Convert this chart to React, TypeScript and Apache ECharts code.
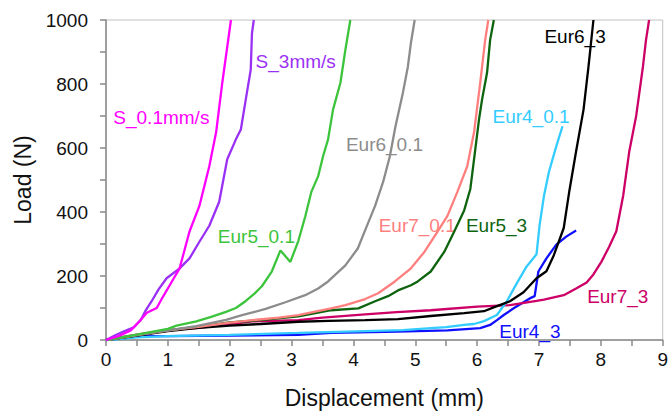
import React, { useEffect, useRef } from "react";
import * as echarts from "echarts";

const FONT = "'Liberation Sans', Arial, Helvetica, sans-serif";

const seriesNames = ["S_0.1mm/s", "S_3mm/s", "Eur5_0.1", "Eur6_0.1", "Eur7_0.1", "Eur5_3", "Eur6_3", "Eur4_0.1", "Eur7_3", "Eur4_3"];
const seriesColors = ["#FF00FF", "#9B30F5", "#3CC43C", "#8C8C8C", "#FF7F7F", "#0E640E", "#000000", "#33CCFF", "#CC0066", "#1010FF"];

const sSlow = [[0,0],[0.2,12],[0.4,30],[0.55,60],[0.66,85],[0.82,100],[0.92,135],[1.03,171],[1.19,224],[1.35,339],[1.51,419],[1.67,543],[1.78,649],[1.88,804],[2.02,1000]];
const sFast = [[0,0],[0.15,15],[0.3,28],[0.45,40],[0.56,62],[0.64,92],[0.74,122],[0.85,158],[0.98,193],[1.19,224],[1.35,255],[1.51,307],[1.67,357],[1.83,432],[1.96,565],[2.1,627],[2.18,658],[2.26,752],[2.34,845],[2.36,960],[2.39,1000]];
const eur5Slow = [[0,0],[0.5,17],[1.0,35],[1.14,45],[1.46,58],[1.7,72],[1.94,88],[2.1,100],[2.26,122],[2.4,145],[2.52,168],[2.68,214],[2.82,280],[2.98,244],[3.11,310],[3.22,385],[3.32,463],[3.43,512],[3.51,575],[3.59,627],[3.67,720],[3.79,804],[3.87,907],[3.95,1000]];
const eur6Slow = [[0,0],[0.5,16],[1.0,30],[1.46,43],[1.94,63],[2.2,78],[2.37,86],[2.58,97],[2.9,118],[3.22,140],[3.43,161],[3.59,183],[3.87,233],[4.07,286],[4.2,348],[4.35,419],[4.48,494],[4.59,575],[4.68,668],[4.8,773],[4.88,854],[4.93,929],[4.99,1000]];
const eur7Slow = [[0,0],[0.5,15],[1.0,30],[1.46,40],[1.94,53],[2.37,62],[2.79,70],[3.11,78],[3.32,86],[3.64,99],[3.87,109],[4.19,128],[4.4,146],[4.67,183],[4.93,224],[5.15,276],[5.36,339],[5.52,388],[5.68,463],[5.84,543],[5.95,649],[6.05,804],[6.13,938],[6.18,1000]];
const eur5Fast = [[0,0],[0.5,15],[1.0,30],[1.5,42],[2.0,55],[2.5,62],[3.11,74],[3.64,93],[4.08,99],[4.35,121],[4.56,137],[4.72,155],[4.93,171],[5.04,183],[5.25,214],[5.47,276],[5.63,339],[5.79,405],[5.89,472],[5.97,596],[6.03,689],[6.08,752],[6.16,835],[6.21,938],[6.27,1000]];
const eur6Fast = [[0,0],[0.5,14],[1.0,28],[1.5,38],[2.0,45],[2.5,50],[3.11,57],[3.6,60],[4.19,62],[4.72,65],[5.25,75],[5.79,84],[6.11,90],[6.32,106],[6.53,121],[6.75,149],[6.96,193],[7.12,215],[7.24,265],[7.4,350],[7.49,465],[7.6,590],[7.72,720],[7.8,854],[7.88,1000]];
const eur4Slow = [[0,0],[0.2,3],[0.5,8],[1.0,12],[2.0,16],[3.11,22],[4.19,28],[4.8,31],[5.25,37],[5.5,40],[5.79,47],[5.95,50],[6.11,59],[6.32,78],[6.48,121],[6.64,177],[6.8,230],[6.96,268],[7.01,360],[7.08,450],[7.16,525],[7.28,606],[7.38,668]];
const eur7Fast = [[0,0],[0.5,17],[1.0,31],[1.5,38],[2.0,50],[2.37,58],[3.11,62],[3.5,70],[4.19,80],[4.7,87],[5.25,93],[6.0,104],[6.53,109],[6.96,122],[7.08,126],[7.4,140],[7.6,161],[7.77,180],[7.88,205],[8.01,245],[8.13,290],[8.25,340],[8.36,450],[8.46,590],[8.57,699],[8.68,854],[8.73,938],[8.78,1000]];
const eur4Fast = [[0,0],[0.3,6],[0.5,12],[1.0,12],[2.0,14],[3.11,16],[3.64,22],[4.72,26],[5.52,30],[6.05,37],[6.21,47],[6.32,62],[6.43,78],[6.59,99],[6.85,130],[6.93,137],[6.99,214],[7.12,255],[7.28,298],[7.44,323],[7.6,342]];

const seriesData = [sSlow, sFast, eur5Slow, eur6Slow, eur7Slow, eur5Fast, eur6Fast, eur4Slow, eur7Fast, eur4Fast];

// label anchor (data coords, left-middle of text)
const labelAnchors = [[0.11,696],[2.41,870],[1.8,323],[3.87,612],[4.4,357],[5.81,357],[7.08,947],[6.24,699],[7.77,137],[6.35,28]];

const xTicks = [0, 9, 1];
const yTicks = [0, 1000, 200];

export default function App() {
  const ref = useRef<HTMLDivElement>(null);
  useEffect(() => {
    if (!ref.current) return;
    const chart = echarts.init(ref.current, null, { renderer: "svg" });
    const series = seriesNames.map((name, i) => ({
      name,
      type: "line",
      data: seriesData[i],
      symbol: "none",
      clip: true,
      lineStyle: { color: seriesColors[i], width: 2.3 },
      itemStyle: { color: seriesColors[i] },
      z: 10 - i,
      markPoint: {
        symbol: "circle",
        symbolSize: 1,
        itemStyle: { color: "rgba(0,0,0,0)" },
        label: {
          show: true,
          position: "right",
          distance: 0,
          formatter: name,
          color: seriesColors[i],
          fontSize: 19,
          fontFamily: FONT,
        },
        data: [{ coord: labelAnchors[i] }],
      },
    }));
    chart.setOption({
      animation: false,
      grid: { left: 106, right: 4, top: 20, bottom: 72, show: true, borderColor: "#c0c0c0", borderWidth: 1, backgroundColor: "transparent" },
      xAxis: {
        type: "value",
        min: xTicks[0],
        max: xTicks[1],
        interval: xTicks[2],
        name: "Displacement (mm)",
        nameLocation: "middle",
        nameGap: 46,
        nameTextStyle: { fontSize: 23, color: "#111", fontFamily: FONT },
        axisLine: { show: true, lineStyle: { color: "#8a8a8a", width: 1.5 } },
        axisTick: { show: true, inside: false, length: 6, lineStyle: { color: "#8a8a8a", width: 1.5 } },
        minorTick: { show: true, splitNumber: 2, length: 6, lineStyle: { color: "#8a8a8a", width: 1.5 } },
        axisLabel: { fontSize: 19, color: "#111", margin: 10, fontFamily: FONT, formatter: (v: number) => String(v) },
        splitLine: { show: false },
      },
      yAxis: {
        type: "value",
        min: yTicks[0],
        max: yTicks[1],
        interval: yTicks[2],
        name: "Load (N)",
        nameLocation: "middle",
        nameGap: 68,
        nameTextStyle: { fontSize: 23, color: "#111", fontFamily: FONT },
        axisLine: { show: true, lineStyle: { color: "#8a8a8a", width: 1.5 } },
        axisTick: { show: true, inside: false, length: 6, lineStyle: { color: "#8a8a8a", width: 1.5 } },
        minorTick: { show: true, splitNumber: 2, length: 6, lineStyle: { color: "#8a8a8a", width: 1.5 } },
        axisLabel: { fontSize: 19, color: "#111", margin: 18, fontFamily: FONT, formatter: (v: number) => String(v) },
        splitLine: { show: false },
      },
      series,
    });
    return () => chart.dispose();
  }, []);
  return <div ref={ref} style={{ position: "fixed", left: 0, top: 0, width: 671, height: 414, background: "#fff" }} />;
}
